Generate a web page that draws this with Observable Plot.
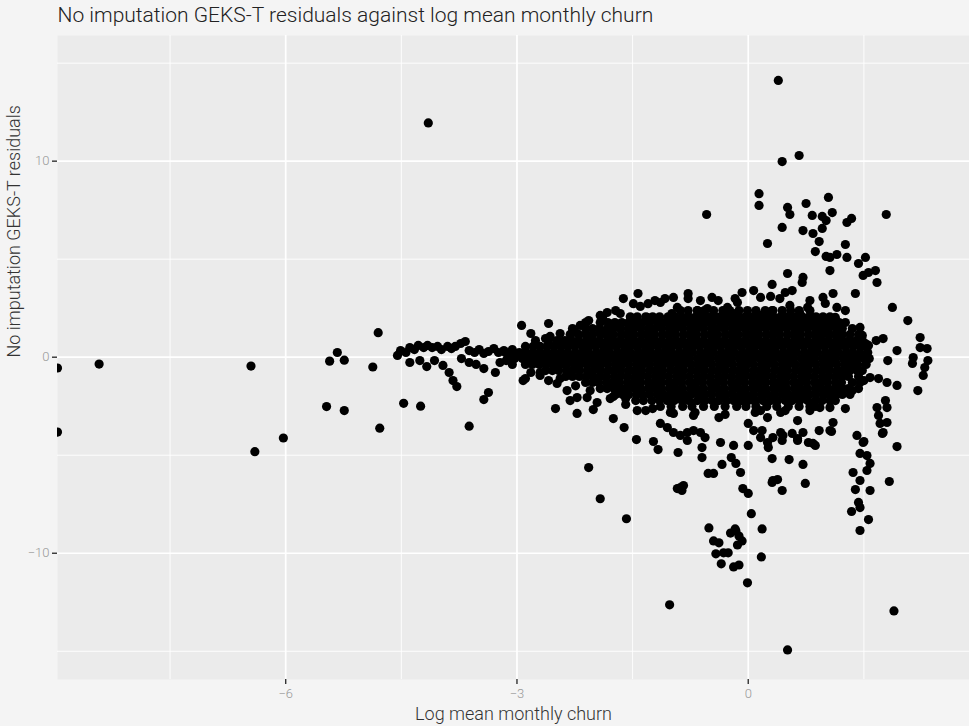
<!DOCTYPE html>
<html><head><meta charset="utf-8">
<script src="https://cdn.jsdelivr.net/npm/d3@7"></script>
<script src="https://cdn.jsdelivr.net/npm/@observablehq/plot@0.6"></script>
<style>
html,body{margin:0;padding:0;background:#f4f4f4;}
#chart svg{display:block;}
</style></head><body><div id="chart"></div>
<script>
const titleText = "No imputation GEKS-T residuals against log mean monthly churn";
const xLabel = "Log mean monthly churn";
const yLabel = "No imputation GEKS-T residuals";
const xTicks = [-6, -3, 0];
const xMinor = [-7.5, -4.5, -1.5, 1.5];
const yTicks = [-10, 0, 10];
const yMinor = [-15, -5, 5, 15];

// [log mean monthly churn, residual]
const leftTail = [[-8.96,-0.55],[-8.96,-3.82],[-8.42,-0.35],[-6.45,-0.45],[-6.40,-4.82],[-6.03,-4.12],[-4.15,11.95],[-5.47,-2.52],[-5.24,-2.72],[-5.43,-0.20],[-5.33,0.24],[-5.24,-0.15],[-4.87,-0.50],[-4.80,1.25],[-4.78,-3.62],[-4.47,-2.35],[-4.25,-2.50],[-3.62,-3.52]];
const leftBand = [[-4.55,0.09],[-4.51,0.34],[-4.44,0.24],[-4.39,0.49],[-4.33,0.39],[-4.28,0.60],[-4.21,0.49],[-4.16,0.60],[-4.10,0.49],[-4.03,0.55],[-3.98,0.39],[-3.90,0.55],[-3.85,0.44],[-3.80,0.55],[-3.73,0.70],[-3.67,0.80],[-3.62,0.34],[-3.55,0.24],[-3.49,0.39],[-3.43,0.19],[-3.37,0.29],[-3.30,0.44],[-3.24,0.24],[-3.17,0.34],[-3.11,0.19],[-3.06,0.39],[-2.99,0.14],[-2.94,1.62],
[-4.39,-0.27],[-4.26,-0.17],[-4.17,-0.48],[-4.07,-0.17],[-3.96,-0.42],[-3.88,-0.78],[-3.83,-1.19],[-3.78,-1.50],[-3.72,-0.07],[-3.62,-0.27],[-3.53,-0.37],[-3.43,-0.58],[-3.43,-2.16],[-3.37,-1.80],[-3.28,-0.78],[-3.22,-0.27],[-3.14,-0.17],[-3.06,-0.37],[-2.92,-1.19],
[-2.59,1.72],[-2.63,0.95],[-2.40,0.80],[-2.82,1.21],[-2.24,1.26],[-2.70,-0.93],[-2.59,-1.19],[-2.82,-0.78],[-2.89,-1.09]];
const upperSpread = [[0.39,14.12],[0.44,9.98],[0.66,10.29],[0.14,8.34],[0.14,7.74],[-0.54,7.28],[0.51,7.64],[0.54,7.28],[0.75,7.84],[1.04,8.15],[0.83,7.23],[0.96,7.18],[1.09,7.38],[1.01,6.97],[0.44,6.62],[0.71,6.46],[0.84,6.31],[0.96,6.57],[1.28,6.87],[1.34,7.08],[1.79,7.28],[0.25,5.80],[0.92,5.90],[1.26,5.75],[0.87,5.39],[1.01,5.14],[1.06,5.09],[1.15,5.24],[1.28,5.09],[1.52,5.09],
[1.43,4.78],[1.06,4.42],[1.49,4.17],[1.67,3.81],[1.65,4.42],[1.56,4.32],[1.39,3.25],[1.87,2.54],[2.07,1.87],[2.23,1.00],[2.32,0.44],[2.23,0.49],[2.33,-0.17],[2.29,-0.53],[2.27,-0.93],[2.14,-0.02],[2.13,-0.32],[2.20,-1.70],[1.75,0.95],[1.81,-0.17],[1.93,0.34],[1.93,-1.44],[1.80,-1.29],[1.69,-1.09],[1.58,-1.04],[1.45,-1.29],[1.35,-1.70],[1.26,-2.62],[1.45,1.52],[1.52,0.70],[1.49,-0.02],[1.36,-0.27],
[-1.62,2.99],[-1.66,2.23],[-1.83,2.28],[-1.89,2.03],[-2.07,1.87],[-1.43,3.25],[-1.08,2.99],[-0.97,3.05],[-0.78,3.25],[-0.78,2.99],[-0.39,2.89],[-0.08,3.30],[0.07,3.40],[0.31,3.71],[0.51,4.27],[0.71,4.07],[0.70,3.81],[0.48,3.30],[0.57,3.40],[0.97,3.05],[1.10,3.25],
[-1.49,2.73],[-1.30,2.73],[-1.14,2.79],[-0.92,2.54],[-0.66,2.38],[-0.53,2.48],[-0.27,2.54],[-0.14,2.79],[0.16,3.05],[0.32,2.38],[0.54,2.64],[0.77,2.54],[1.15,2.54],
[-2.18,1.62],[-1.92,1.26],[-1.79,1.36],[-1.53,1.87],[-1.31,2.03],[-1.18,1.97],[-0.99,2.23],[-0.79,2.03],[-0.53,2.03],[-0.36,2.03],[-0.19,2.23],[-0.01,2.03],[0.16,2.13],[0.51,2.03],[0.67,2.23],[0.84,2.03],[0.97,1.77],[1.13,2.03],[1.19,1.46],[1.02,1.21],
[-1.40,2.59],[-1.21,2.89],[-0.62,2.89],[-0.47,3.05],[-0.17,2.99],[0.29,3.10],[0.41,2.99],[0.80,2.89],[1.00,2.74],[1.26,2.38],[-1.92,2.13],[-1.72,2.38],[-2.11,1.77],[-2.28,1.46],[-2.44,1.21],[-2.57,1.06],[-2.76,0.85],
[1.48,1.11],[1.56,0.60],[1.53,-0.17],[1.50,-1.19],[1.66,0.85]];
const lowerSpread = [[-2.50,-2.62],[-2.22,-2.87],[-2.01,-2.67],[-1.75,-3.13],[-1.61,-3.59],[-1.45,-4.20],[-1.23,-4.30],[-1.17,-4.71],[-0.91,-4.86],[-0.88,-6.65],[-0.92,-6.70],[-0.60,-5.12],[-0.52,-5.93],[-0.45,-5.93],[-0.34,-5.47],[-0.22,-5.12],[-0.16,-5.42],[-0.10,-5.88],[-0.07,-6.70],[0.00,-6.95],[-0.36,-4.35],[-0.19,-4.50],[0.00,-4.50],[0.00,-3.38],[0.31,-5.17],[0.32,-6.29],[0.44,-6.80],[0.53,-5.22],[0.71,-5.47],[0.74,-6.44],[0.78,-4.35],[0.84,-4.40],[0.92,-3.74],[1.06,-3.74],[1.10,-3.33],[1.41,-3.99],[1.49,-4.35],[1.45,-4.91],[1.54,-5.02],[1.58,-5.42],[1.54,-5.78],[1.36,-5.88],[1.45,-6.29],[1.39,-6.75],[1.58,-6.80],[1.83,-6.34],[1.93,-4.56],[1.67,-2.57],[1.69,-2.97],[1.71,-3.38],[1.75,-3.84],[1.80,-3.33],[1.78,-2.21],[1.80,-2.57],
[-1.75,-2.00],[-1.59,-2.11],[-1.44,-2.72],[-1.24,-2.62],[-0.97,-2.87],[-0.71,-2.97],[-0.38,-3.08],[-0.56,-2.21],[-0.36,-2.06],[-0.14,-2.06],[0.07,-2.21],[0.16,-2.72],[0.25,-3.08],[0.42,-2.82],[0.42,-3.84],[0.57,-3.89],[0.71,-3.84],[0.64,-3.23],[0.80,-2.72],[0.93,-2.57],[1.10,-2.06],[1.06,-2.57],
[-1.14,-3.38],[-1.05,-3.59],[-0.97,-3.84],[-0.88,-3.99],[-0.79,-3.84],[-0.71,-3.74],[-0.62,-3.84],[-0.56,-4.10],[-0.60,-4.61],[0.07,-3.74],[0.16,-4.10],[0.25,-4.35],[0.26,-4.61],[0.44,-4.25],[0.64,-4.25],
[-2.48,-1.34],[-2.35,-1.70],[-2.31,-2.21],[-2.22,-2.06],[-2.09,-2.06],[-1.96,-2.31],
[0.04,-7.98],[0.18,-8.76],[0.17,-10.19],[-0.01,-11.51],[-0.51,-8.71],[-0.45,-9.37],[-0.38,-9.47],[-0.42,-10.03],[-0.32,-9.98],[-0.26,-9.98],[-0.35,-10.54],[-0.19,-10.70],[-0.12,-10.60],[-0.23,-8.97],[-0.17,-8.76],[-0.12,-9.12],[-0.08,-9.37],[-0.14,-9.58],[-0.16,-8.87],[0.31,-6.39],[0.38,-6.24],[0.18,-3.74],[0.32,-4.10],[0.45,-3.99],[0.64,-4.15],[0.87,-4.50],[1.08,-3.79],[1.50,-4.30],[1.43,-7.41],[1.45,-7.67],[1.34,-7.87],[1.56,-8.28],[1.45,-8.84],[1.74,-3.89],[-0.84,-6.55],[-0.86,-6.80],[-0.79,-4.25],
[-2.05,-1.70],[-2.24,-1.46],[-2.44,-1.09],[-2.70,-0.78],[-1.79,-2.11],[-1.59,-2.41],[-1.33,-2.72],[-1.01,-2.82],[-0.69,-2.82],[-0.30,-2.92],[0.09,-2.82],[0.48,-2.72],[0.87,-2.51],[1.13,-2.21],[1.32,-1.90],[1.43,-1.60]];
const outliers = [[0.51,-14.93],[1.89,-12.94],[-1.02,-12.63],[-1.58,-8.24],[-1.92,-7.22],[-2.07,-5.63]];
// dense core, read row by row: [residual, [churn values]]
const coreRows = [
[2.38,[-0.88,-0.78,-0.66,-0.57,-0.45,-0.33,-0.24,-0.12,-0.01,0.10,0.22,0.31,0.44,0.55,0.66,0.80]],
[2.06,[-1.53,-1.44,-1.33,-1.24,-1.15,-1.04,-0.95,-0.86,-0.77,-0.68,-0.59,-0.50,-0.41,-0.31,-0.22,-0.13,-0.04,0.05,0.14,0.24,0.33,0.42,0.51,0.60,0.70,0.79,0.88,0.97,1.06]],
[1.77,[-1.92,-1.82,-1.73,-1.64,-1.55,-1.46,-1.37,-1.28,-1.18,-1.09,-1.00,-0.91,-0.82,-0.73,-0.63,-0.55,-0.46,-0.36,-0.27,-0.18,-0.09,0.00,0.09,0.18,0.28,0.37,0.46,0.55,0.64,0.73,0.82,0.91,1.00,1.09,1.18,1.26]],
[1.46,[-2.11,-2.02,-1.93,-1.83,-1.75,-1.66,-1.56,-1.48,-1.39,-1.29,-1.21,-1.12,-1.02,-0.94,-0.85,-0.75,-0.67,-0.58,-0.48,-0.40,-0.31,-0.21,-0.13,-0.04,0.06,0.14,0.23,0.33,0.41,0.50,0.60,0.68,0.77,0.87,0.95,1.04,1.14,1.22,1.35]],
[1.16,[-2.31,-2.20,-2.11,-2.02,-1.92,-1.84,-1.75,-1.65,-1.57,-1.48,-1.38,-1.30,-1.21,-1.11,-1.03,-0.94,-0.84,-0.76,-0.67,-0.57,-0.49,-0.40,-0.30,-0.22,-0.13,-0.03,0.05,0.14,0.24,0.32,0.41,0.51,0.59,0.68,0.78,0.86,0.95,1.05,1.13,1.22,1.32,1.43]],
[0.85,[-2.59,-2.48,-2.38,-2.29,-2.20,-2.10,-2.02,-1.93,-1.83,-1.75,-1.66,-1.56,-1.48,-1.39,-1.29,-1.21,-1.12,-1.02,-0.94,-0.85,-0.75,-0.67,-0.58,-0.48,-0.40,-0.31,-0.21,-0.13,-0.04,0.06,0.14,0.23,0.33,0.41,0.50,0.60,0.68,0.77,0.87,0.95,1.04,1.14,1.22,1.31,1.40,1.48]],
[0.55,[-2.89,-2.79,-2.70,-2.61,-2.52,-2.43,-2.34,-2.25,-2.15,-2.07,-1.98,-1.88,-1.80,-1.71,-1.61,-1.53,-1.44,-1.34,-1.26,-1.17,-1.07,-0.99,-0.90,-0.80,-0.72,-0.63,-0.53,-0.45,-0.36,-0.26,-0.18,-0.09,0.01,0.09,0.18,0.28,0.36,0.45,0.55,0.63,0.72,0.82,0.90,0.99,1.09,1.17,1.26,1.36,1.45,1.53]],
[0.24,[-3.15,-3.06,-2.97,-2.88,-2.79,-2.70,-2.61,-2.52,-2.43,-2.34,-2.24,-2.15,-2.07,-1.97,-1.89,-1.80,-1.70,-1.62,-1.53,-1.43,-1.35,-1.26,-1.16,-1.08,-0.99,-0.89,-0.81,-0.72,-0.62,-0.54,-0.45,-0.35,-0.27,-0.18,-0.08,0.00,0.09,0.19,0.27,0.36,0.46,0.54,0.63,0.73,0.81,0.90,1.00,1.08,1.17,1.27,1.35,1.45,1.55]],
[-0.07,[-3.12,-3.03,-2.93,-2.84,-2.75,-2.66,-2.57,-2.48,-2.38,-2.29,-2.20,-2.11,-2.02,-1.93,-1.84,-1.75,-1.66,-1.57,-1.48,-1.39,-1.30,-1.21,-1.12,-1.03,-0.94,-0.85,-0.76,-0.66,-0.58,-0.49,-0.39,-0.31,-0.22,-0.12,-0.04,0.05,0.15,0.23,0.32,0.42,0.50,0.59,0.69,0.77,0.86,0.96,1.04,1.13,1.23,1.31,1.40,1.50,1.57]],
[-0.37,[-2.89,-2.80,-2.71,-2.62,-2.53,-2.44,-2.36,-2.26,-2.18,-2.09,-1.99,-1.91,-1.82,-1.72,-1.64,-1.55,-1.45,-1.37,-1.28,-1.18,-1.10,-1.01,-0.91,-0.83,-0.74,-0.64,-0.56,-0.47,-0.37,-0.29,-0.20,-0.10,-0.02,0.07,0.17,0.25,0.34,0.44,0.52,0.61,0.71,0.79,0.88,0.98,1.06,1.15,1.25,1.33,1.42,1.53]],
[-0.68,[-2.63,-2.54,-2.46,-2.36,-2.28,-2.19,-2.09,-2.01,-1.92,-1.82,-1.74,-1.65,-1.55,-1.47,-1.38,-1.28,-1.20,-1.11,-1.01,-0.93,-0.84,-0.74,-0.66,-0.57,-0.47,-0.39,-0.30,-0.20,-0.12,-0.03,0.07,0.15,0.24,0.34,0.42,0.51,0.61,0.69,0.78,0.88,0.96,1.05,1.15,1.23,1.32,1.41,1.48]],
[-0.98,[-2.37,-2.28,-2.19,-2.10,-2.01,-1.92,-1.84,-1.74,-1.66,-1.57,-1.47,-1.39,-1.30,-1.20,-1.12,-1.03,-0.93,-0.85,-0.76,-0.66,-0.58,-0.49,-0.39,-0.31,-0.22,-0.12,-0.04,0.05,0.15,0.23,0.32,0.42,0.50,0.59,0.69,0.77,0.86,0.96,1.04,1.13,1.22,1.30,1.43]],
[-1.29,[-2.11,-2.02,-1.94,-1.84,-1.76,-1.67,-1.57,-1.49,-1.40,-1.30,-1.22,-1.13,-1.03,-0.95,-0.86,-0.76,-0.68,-0.59,-0.49,-0.41,-0.32,-0.22,-0.14,-0.05,0.05,0.13,0.22,0.32,0.40,0.49,0.59,0.67,0.76,0.86,0.94,1.03,1.13,1.21,1.35]],
[-1.60,[-1.92,-1.83,-1.74,-1.65,-1.56,-1.47,-1.39,-1.29,-1.21,-1.12,-1.02,-0.94,-0.85,-0.75,-0.67,-0.58,-0.48,-0.40,-0.31,-0.21,-0.13,-0.04,0.06,0.14,0.23,0.33,0.41,0.50,0.60,0.68,0.77,0.87,0.95,1.04,1.13,1.22,1.30]],
[-1.90,[-1.72,-1.63,-1.55,-1.45,-1.37,-1.28,-1.18,-1.10,-1.01,-0.91,-0.83,-0.74,-0.64,-0.56,-0.47,-0.37,-0.29,-0.20,-0.10,-0.02,0.07,0.17,0.25,0.34,0.44,0.52,0.61,0.71,0.79,0.88,0.98,1.06,1.14,1.22]],
[-2.21,[-1.46,-1.36,-1.25,-1.15,-1.05,-0.96,-0.86,-0.77,-0.66,-0.57,-0.47,-0.38,-0.28,-0.19,-0.09,0.00,0.10,0.19,0.29,0.38,0.48,0.57,0.67,0.77,0.87,0.96,1.06]],
[-2.51,[-1.14,-1.00,-0.85,-0.73,-0.58,-0.44,-0.30,-0.15,-0.03,0.10,0.24,0.37,0.52,0.66,0.80]]
];

const points = [...leftTail, ...leftBand, ...upperSpread, ...lowerSpread, ...outliers,
  ...coreRows.flatMap(([y, xs]) => xs.map(x => [x, y]))];

const chart = Plot.plot({
  width: 969, height: 726,
  marginLeft: 57, marginRight: 0, marginTop: 35, marginBottom: 47,
  style: {background: "#f4f4f4", fontFamily: "Roboto, sans-serif", overflow: "visible"},
  x: {domain: [-8.96, 2.87]},
  y: {domain: [-16.44, 16.41]},
  marks: [
    Plot.frame({fill: "#ebebeb", stroke: "none"}),
    Plot.gridX(xMinor, {stroke: "#ffffff", strokeOpacity: 1, strokeWidth: 0.9}),
    Plot.gridY(yMinor, {stroke: "#ffffff", strokeOpacity: 1, strokeWidth: 0.9}),
    Plot.gridX(xTicks, {stroke: "#ffffff", strokeOpacity: 1, strokeWidth: 1.7}),
    Plot.gridY(yTicks, {stroke: "#ffffff", strokeOpacity: 1, strokeWidth: 1.7}),
    Plot.dot(points, {x: d => d[0], y: d => d[1], r: 4.6, fill: "#000", stroke: "none", clip: true}),
    Plot.axisX(xTicks, {tickSize: 5, tickPadding: 4, stroke: "#333", strokeWidth: 1.4, fill: "#999", fontSize: 13, fontWeight: 300, label: null}),
    Plot.axisY(yTicks, {tickSize: 5, tickPadding: 3, stroke: "#333", strokeWidth: 1.4, fill: "#999", fontSize: 13, fontWeight: 300, label: null}),
    Plot.text([titleText], {frameAnchor: "top-left", dy: -20, textAnchor: "start", lineAnchor: "middle", fontSize: 21, fontWeight: 300, fill: "#222"}),
    Plot.text([xLabel], {frameAnchor: "bottom", dy: 35, lineAnchor: "middle", fontSize: 18, fontWeight: 300, fill: "#333"}),
    Plot.text([yLabel], {frameAnchor: "left", dx: -43, rotate: -90, lineAnchor: "middle", fontSize: 18, fontWeight: 300, fill: "#333"})
  ]
});
document.getElementById("chart").append(chart);
</script></body></html>
